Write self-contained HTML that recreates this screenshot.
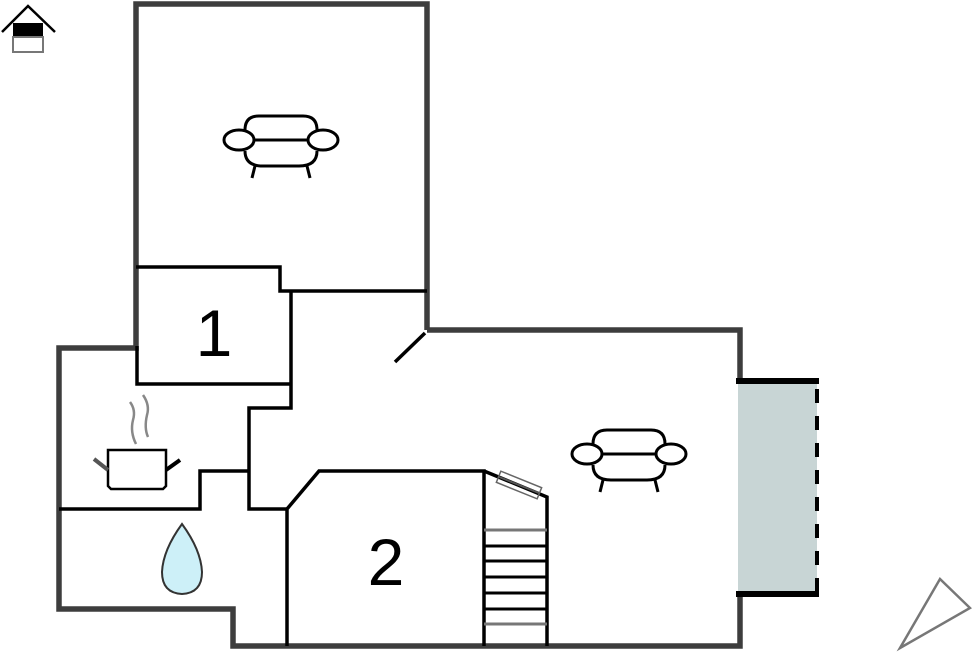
<!DOCTYPE html>
<html><head><style>body{margin:0;background:#fff}svg{display:block}</style></head><body>
<svg width="972" height="652" viewBox="0 0 972 652" xmlns="http://www.w3.org/2000/svg">
<defs>
<g id="sofa" fill="#fff" stroke="#000" stroke-width="3">
<path d="M-36,-5 L-36,-16 Q-36,-30 -22,-30 L22,-30 Q36,-30 36,-16 L36,-5"/>
<path d="M-36,5 Q-36,20 -18,20 L18,20 Q36,20 36,5"/>
<line x1="-28" y1="-6" x2="28" y2="-6"/>
<ellipse cx="-42" cy="-6" rx="15" ry="10"/>
<ellipse cx="42" cy="-6" rx="15" ry="10"/>
<line x1="-26" y1="20" x2="-29" y2="32"/><line x1="26" y1="20" x2="29" y2="32"/>
</g>
</defs>
<rect x="738" y="383" width="79" height="211" fill="#c8d5d5"/>
<g fill="none" stroke="#3d3d3d" stroke-width="5.5" stroke-linejoin="miter">
<polyline points="427,330 427,4 136,4 136,348 59,348 59,609 233,609 233,646 740,646 740,594"/>
<polyline points="427,330 740,330 740,381"/>
</g>
<g stroke="#000" stroke-width="6">
<line x1="736" y1="381" x2="819" y2="381"/>
<line x1="736" y1="594" x2="819" y2="594"/>
</g>
<line x1="817" y1="389" x2="817" y2="592" stroke="#000" stroke-width="4" stroke-dasharray="14,13"/>
<g fill="none" stroke="#000" stroke-width="3.5">
<polyline points="136,267 280,267 280,291 427,291"/>
<polyline points="291,291 291,408 249,408 249,509 287,509"/>
<polyline points="137,346 137,384 291,384"/>
<polyline points="249,471 200,471 200,509 59,509"/>
<polyline points="287,646 287,509 319,471 484,471 484,646"/>
<polyline points="484,471 547,497 547,646"/>
<line x1="395" y1="362" x2="425" y2="333"/>
</g>
<g stroke="#000" stroke-width="3">
<line x1="484" y1="530" x2="547" y2="530" stroke="#777"/>
<line x1="484" y1="546" x2="547" y2="546"/>
<line x1="484" y1="561" x2="547" y2="561"/>
<line x1="484" y1="577" x2="547" y2="577"/>
<line x1="484" y1="593" x2="547" y2="593"/>
<line x1="484" y1="609" x2="547" y2="609"/>
<line x1="484" y1="624" x2="547" y2="624" stroke="#777"/>
</g>
<g transform="translate(519,485) rotate(22)"><rect x="-22" y="-6" width="44" height="12" fill="none" stroke="#666" stroke-width="1.5"/><line x1="-22" y1="0" x2="22" y2="0" stroke="#555" stroke-width="2"/></g>
<text x="214" y="356" font-family="Liberation Sans, sans-serif" font-size="66" text-anchor="middle">1</text>
<text x="386" y="585" font-family="Liberation Sans, sans-serif" font-size="66" text-anchor="middle">2</text>
<use href="#sofa" transform="translate(281,146)"/>
<use href="#sofa" transform="translate(629,460)"/>
<path d="M108,450 L166,450 L166,486 L163,489 L111,489 L108,486 Z" fill="#fff" stroke="#000" stroke-width="2.5"/>
<line x1="94" y1="459" x2="108" y2="470" stroke="#555" stroke-width="4"/>
<line x1="166" y1="470" x2="180" y2="460" stroke="#000" stroke-width="4"/>
<path d="M130,402 Q136,410 133,420 Q130,432 136,444" fill="none" stroke="#888" stroke-width="2.5"/>
<path d="M143,395 Q150,405 147,415 Q144,428 148,437" fill="none" stroke="#888" stroke-width="2.5"/>
<path d="M182,524 Q201,550 202,572 Q202,593 182,594 Q162,593 162,572 Q163,550 182,524 Z" fill="#cdf0f8" stroke="#333" stroke-width="2"/>
<polyline points="2,32 28,6 55,32" fill="none" stroke="#000" stroke-width="2.5"/>
<rect x="13" y="23" width="30" height="14" fill="#000"/>
<rect x="13" y="37" width="30" height="15" fill="#fff" stroke="#777" stroke-width="2"/>
<polygon points="900,648 970,608 940,579" fill="none" stroke="#777" stroke-width="2.5"/>
</svg>
</body></html>
